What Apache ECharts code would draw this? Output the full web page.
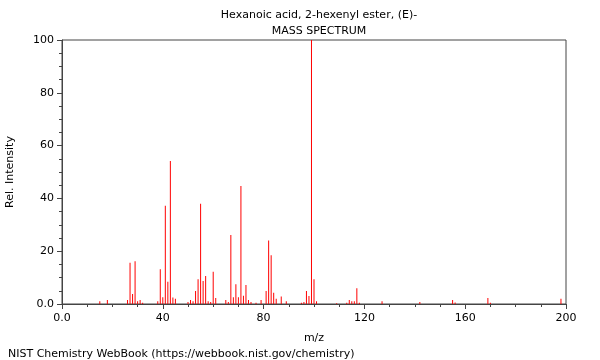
<!DOCTYPE html>
<html>
<head>
    <meta charset="utf-8"/>
    <title>Hexanoic acid, 2-hexenyl ester, (E)- mass spectrum</title>
    <script type="text/javascript" src="https://cdn.jsdelivr.net/npm/echarts@6/dist/echarts.min.js"></script>
    <style>
        html, body { margin: 0; padding: 0; background: #fff; }
    </style>
</head>
<body>
<div id="main" style="width: 600px;height:360px;"></div>
<script type="text/javascript">
    // m/z values and relative intensities
    var mz = [15, 18, 26, 27, 28, 29, 30, 31, 32, 38, 39, 40, 41, 42, 43, 44, 45,
        50, 51, 52, 53, 54, 55, 56, 57, 58, 59, 60, 61, 65, 66, 67, 68, 69, 70,
        71, 72, 73, 74, 75, 77, 79, 81, 82, 83, 84, 85, 87, 89, 95, 96, 97, 98,
        99, 100, 101, 109, 113, 114, 115, 116, 117, 118, 127, 142, 155, 156,
        169, 170, 198];
    var intensity = [1, 1.5, 1.5, 15.6, 3.8, 16.2, 1, 1.5, 0.5, 1, 13.2, 2.6, 37.2, 8.4, 54.2, 2.5, 2,
        0.8, 1.5, 1, 4.9, 9.4, 38, 8.7, 10.6, 1, 0.8, 12.2, 2.3, 1.5, 0.8, 26.1, 2.6, 7.5, 2.6,
        44.7, 3.1, 7.2, 1.5, 0.8, 0.5, 1.5, 4.9, 24.1, 18.5, 4.3, 2, 2.8, 1, 0.5, 0.8, 4.9, 3,
        100, 9.4, 1, 0.3, 0.5, 1.5, 1, 1, 6, 0.5, 1, 0.8, 1.5, 0.6,
        2.3, 0.5, 2];
    var titleLines = ['Hexanoic acid, 2-hexenyl ester, (E)-', 'MASS SPECTRUM'];
    var footer = 'NIST Chemistry WebBook (https://webbook.nist.gov/chemistry)';

    var peaks = [];
    for (var i = 0; i < mz.length; i++) {
        peaks.push([mz[i], intensity[i]]);
    }

    var font = 'DejaVu Sans';
    var myChart = echarts.init(document.getElementById('main'));
    var option = {
        animation: false,
        textStyle: {fontFamily: font},
        title: [
            {text: titleLines[0], left: 314, top: 5, textAlign: 'center',
                textStyle: {fontSize: 11, fontWeight: 'normal', color: '#000', fontFamily: font}},
            {text: titleLines[1], left: 314, top: 21, textAlign: 'center',
                textStyle: {fontSize: 11, fontWeight: 'normal', color: '#000', fontFamily: font}},
            {text: footer, left: 3, top: 344,
                textStyle: {fontSize: 11, fontWeight: 'normal', color: '#000', fontFamily: font}}
        ],
        grid: {
            left: 62,
            right: 34,
            top: 40,
            bottom: 56,
            containLabel: false,
            outerBoundsMode: 'none',
            show: true,
            borderColor: '#444',
            borderWidth: 1,
            backgroundColor: 'transparent'
        },
        xAxis: {
            type: 'value',
            min: 0,
            max: 200,
            interval: 40,
            name: 'm/z',
            nameLocation: 'middle',
            nameGap: 29,
            nameTextStyle: {fontSize: 11, color: '#000', fontFamily: font},
            axisLine: {show: true, onZero: false, lineStyle: {color: '#444'}},
            axisTick: {show: true, length: 5, lineStyle: {color: '#444'}},
            minorTick: {show: true, splitNumber: 4, length: 3, lineStyle: {color: '#444'}},
            splitLine: {show: false},
            axisLabel: {
                fontSize: 11, color: '#000', margin: 9, fontFamily: font,
                formatter: function (v) { return v === 0 ? '0.0' : String(v); }
            }
        },
        yAxis: {
            type: 'value',
            min: 0,
            max: 100,
            interval: 20,
            name: 'Rel. Intensity',
            nameLocation: 'middle',
            nameGap: 46,
            nameTextStyle: {fontSize: 11, color: '#000', fontFamily: font},
            axisLine: {show: true, lineStyle: {color: '#444'}},
            axisTick: {show: true, length: 5, lineStyle: {color: '#444'}},
            minorTick: {show: true, splitNumber: 4, length: 3, lineStyle: {color: '#444'}},
            splitLine: {show: false},
            axisLabel: {
                fontSize: 11, color: '#000', margin: 8, fontFamily: font,
                formatter: function (v) { return v === 0 ? '0.0' : String(v); }
            }
        },
        series: [{
            type: 'bar',
            data: peaks,
            barWidth: 1,
            itemStyle: {color: '#ff0000'},
            silent: true
        }]
    };
    myChart.setOption(option);
</script>
</body>
</html>
